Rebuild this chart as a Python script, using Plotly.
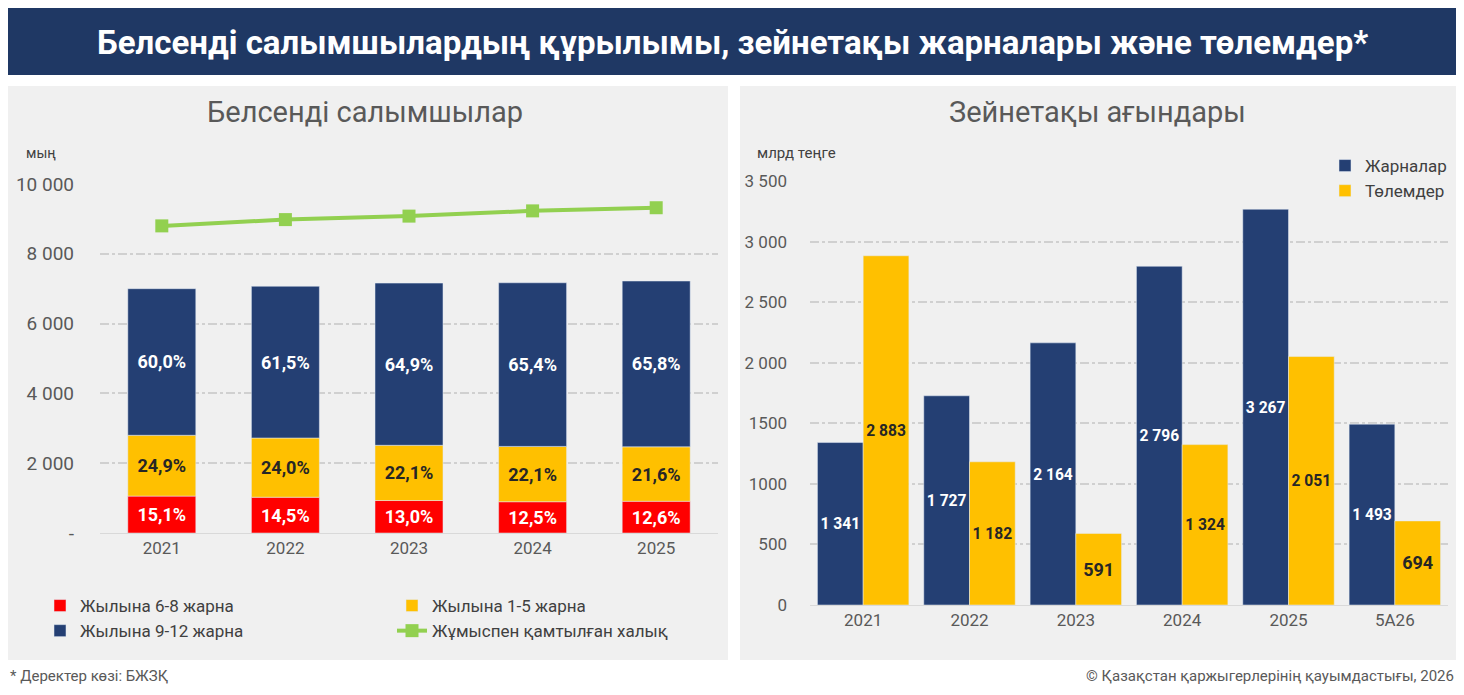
import plotly.graph_objects as go

years = ["2021", "2022", "2023", "2024", "2025"]
totals = [7000, 7070, 7160, 7170, 7220]
pct_68 = [15.1, 14.5, 13.0, 12.5, 12.6]
pct_15 = [24.9, 24.0, 22.1, 22.1, 21.6]
pct_912 = [60.0, 61.5, 64.9, 65.4, 65.8]
employed = [8800, 8980, 9080, 9230, 9320]

flow_cats = ["2021", "2022", "2023", "2024", "2025", "5А26"]
contrib = [1341, 1727, 2164, 2796, 3267, 1493]
payments = [2883, 1182, 591, 1324, 2051, 694]

FONT = "Roboto, sans-serif"
NAVY = "#243f73"
YEL = "#ffc000"
RED = "#ff0000"
GREEN = "#92d050"
GRAY = "#595959"

def fmt(v):
    return f"{v:,}".replace(",", " ")

def pl(p):
    return [f"<b>{x:.1f}%</b>".replace(".", ",") for x in p]

fig = go.Figure()
base = [0.0] * len(years)
for pct, col, name, tc, lg in [(pct_68, RED, "Жылына 6-8 жарна", "white", "legend"),
                               (pct_15, YEL, "Жылына 1-5 жарна", "#262626", "legend3"),
                               (pct_912, NAVY, "Жылына 9-12 жарна", "white", "legend")]:
    vals = [t * p / 100 for t, p in zip(totals, pct)]
    fig.add_trace(go.Bar(x=years, y=vals, base=list(base), name=name,
                         marker_color=col, text=pl(pct), textposition="inside",
                         insidetextanchor="middle", textangle=0,
                         textfont=dict(color=tc, size=18, family=FONT),
                         xaxis="x", yaxis="y", legend=lg, width=0.55))
    base = [b + v for b, v in zip(base, vals)]
fig.add_trace(go.Scatter(x=years, y=employed, name="Жұмыспен қамтылған халық", mode="lines+markers",
                         line=dict(color=GREEN, width=4), marker=dict(symbol="square", size=13, color=GREEN),
                         xaxis="x", yaxis="y", legend="legend3"))

fig.add_trace(go.Bar(x=flow_cats, y=contrib, name="Жарналар", marker_color=NAVY,
                     text=[f"<b>{fmt(v)}</b>" for v in contrib], textposition="inside", insidetextanchor="middle",
                     textangle=0, textfont=dict(color="white", size=18, family=FONT), offset=-0.43, width=0.43,
                     xaxis="x2", yaxis="y2", legend="legend2"))
fig.add_trace(go.Bar(x=flow_cats, y=payments, name="Төлемдер", marker_color=YEL,
                     text=[f"<b>{fmt(v)}</b>" for v in payments], textposition="inside", insidetextanchor="middle",
                     textangle=0, textfont=dict(color="#262626", size=18, family=FONT), offset=0.0, width=0.43,
                     xaxis="x2", yaxis="y2", legend="legend2"))

W = 1448.0
H = 679.0
def fy(p): return 1 - (p - 8) / H
def fx(p): return (p - 8) / W

grid = dict(showgrid=True, gridcolor="#d0d0d0", griddash="dashdot", gridwidth=1.5, zeroline=False)
leg = dict(xanchor="left", yanchor="top", font=dict(size=17, color="#404040"),
           bgcolor="rgba(0,0,0,0)", tracegroupgap=4)
fig.update_layout(
    width=1448, height=679, margin=dict(l=0, r=0, t=0, b=0, autoexpand=False),
    paper_bgcolor="white", plot_bgcolor="rgba(0,0,0,0)",
    font=dict(family=FONT, color=GRAY, size=18),
    barmode="overlay",
    xaxis=dict(domain=[fx(100), fx(718)], anchor="y", tickfont=dict(size=17, color=GRAY),
               showline=True, linecolor="#d9d9d9", linewidth=1),
    yaxis=dict(domain=[fy(533), fy(184)], range=[0, 10000], tickvals=[0, 2000, 4000, 6000, 8000, 10000],
               ticktext=["-", "2 000", "4 000", "6 000", "8 000", "10 000"], anchor="x", **grid,
               tickfont=dict(size=19, color=GRAY), ticklabelstandoff=25),
    xaxis2=dict(domain=[fx(810), fx(1448)], anchor="y2", tickfont=dict(size=17, color=GRAY),
                showline=True, linecolor="#d9d9d9", linewidth=1),
    yaxis2=dict(domain=[fy(605), fy(181)], range=[0, 3500], anchor="x2", **grid,
                tickvals=[0, 500, 1000, 1500, 2000, 2500, 3000, 3500],
                ticktext=["0", "500", "1000", "1500", "2 000", "2 500", "3 000", "3 500"],
                tickfont=dict(size=17, color=GRAY), ticklabelstandoff=22),
    legend=dict(leg, x=fx(40), y=fy(588)),
    legend3=dict(leg, x=fx(392), y=fy(588)),
    legend2=dict(leg, x=fx(1325), y=fy(148)),
    showlegend=True,
)

shapes = [
    dict(type="rect", xref="paper", yref="paper", x0=fx(8), x1=fx(1456), y0=fy(75), y1=fy(8),
         fillcolor="#1f3864", line_width=0, layer="below"),
    dict(type="rect", xref="paper", yref="paper", x0=fx(8), x1=fx(728), y0=fy(660), y1=fy(86),
         fillcolor="#f0f0f0", line_width=0, layer="below"),
    dict(type="rect", xref="paper", yref="paper", x0=fx(740), x1=fx(1456), y0=fy(660), y1=fy(86),
         fillcolor="#f0f0f0", line_width=0, layer="below"),
]
fig.update_layout(shapes=shapes)
ann = [
    dict(text="<b>Белсенді салымшылардың құрылымы, зейнетақы жарналары және төлемдер*</b>", x=fx(732), y=fy(42),
         font=dict(size=33, color="white", family=FONT)),
    dict(text="Белсенді салымшылар", x=fx(365), y=fy(112), font=dict(size=29, color=GRAY)),
    dict(text="Зейнетақы ағындары", x=fx(1097), y=fy(112), font=dict(size=29, color=GRAY)),
    dict(text="мың", x=fx(24), y=fy(153), xanchor="left", font=dict(size=14, color="#404040")),
    dict(text="млрд теңге", x=fx(755), y=fy(153), xanchor="left", font=dict(size=15, color="#404040")),
    dict(text="* Деректер көзі: БЖЗҚ", x=fx(8), y=fy(676), xanchor="left", font=dict(size=15, color=GRAY)),
    dict(text="© Қазақстан қаржыгерлерінің қауымдастығы, 2026", x=fx(1456), y=fy(676), xanchor="right",
         font=dict(size=15, color=GRAY)),
]
fig.update_layout(annotations=[dict(dict(xanchor="center"), **a, xref="paper", yref="paper",
                                    yanchor="middle", showarrow=False) for a in ann])
fig.write_html("out.html")
